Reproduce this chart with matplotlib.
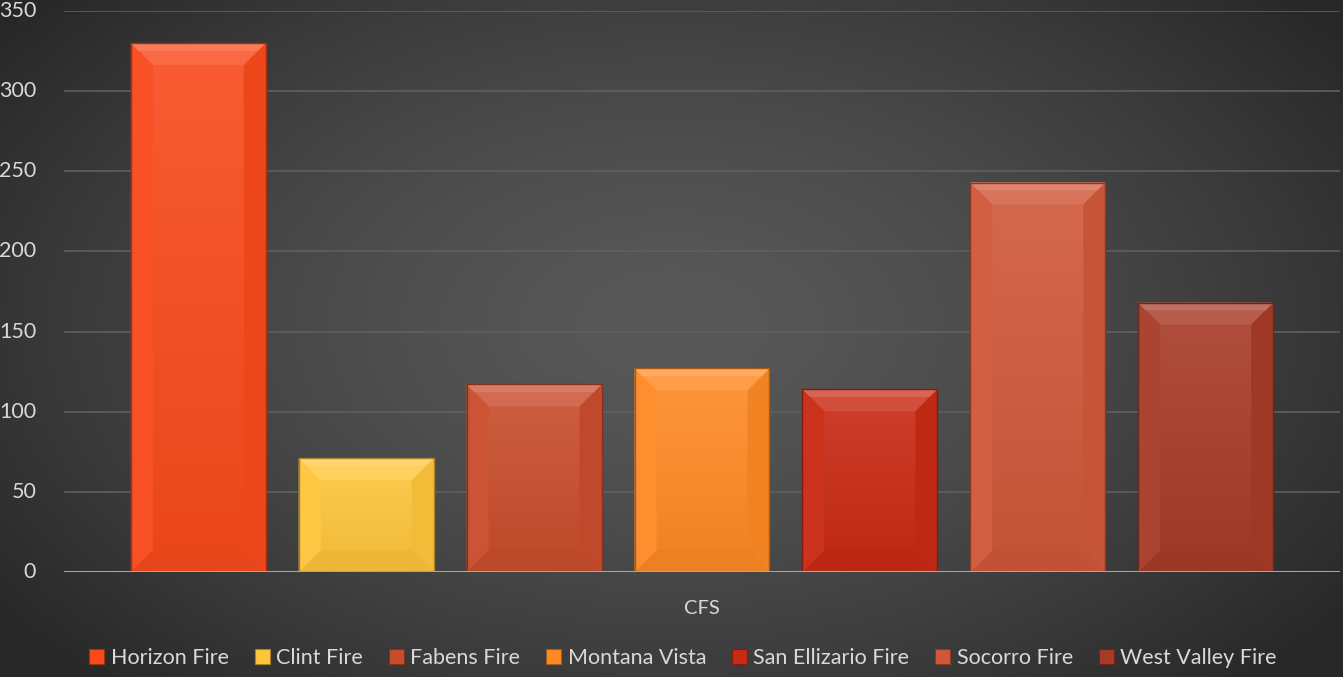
import numpy as np
import matplotlib
matplotlib.use("Agg")
import matplotlib.pyplot as plt
from matplotlib.patches import Polygon, Patch
from matplotlib.colors import to_rgb

# ---- data ----
series = ["Horizon Fire", "Clint Fire", "Fabens Fire", "Montana Vista",
          "San Ellizario Fire", "Socorro Fire", "West Valley Fire"]
values = [330, 71, 117, 127, 114, 243, 168]
category = "CFS"
yticks = [0, 50, 100, 150, 200, 250, 300, 350]
colors = ["#F84A1C", "#FFC63C", "#C94D2C", "#FF8A25", "#C92A14", "#D0583A", "#A83B28"]

plt.rcParams['font.family'] = ['Lato', 'DejaVu Sans']

W, H = 1343, 677
fig = plt.figure(figsize=(W / 100, H / 100), dpi=100)

# background radial gradient
bg = fig.add_axes([0, 0, 1, 1], zorder=-10)
yy, xx = np.mgrid[0:H, 0:W]
r = np.sqrt(((xx - W * 0.5) / (W * 0.62)) ** 2 + ((yy - H * 0.48) / (H * 0.75)) ** 2)
r = np.clip(r, 0, 1)
c_in, c_out = 0x58 / 255, 0x27 / 255
img = c_in + (c_out - c_in) * r ** 1.5
bg.imshow(np.dstack([img, img, img]), aspect='auto', extent=[0, 1, 0, 1])
bg.axis('off')

ax = fig.add_axes([64 / W, 105 / H, (1340 - 64) / W, (572 - 11) / H])
ax.set_facecolor('none')
for s in ax.spines.values():
    s.set_visible(False)

n = len(series)
pos = np.arange(n)
bw = 0.804
ax.set_xlim(-0.5 - 0.30, n - 0.5 + 0.30)
ax.set_ylim(0, 350)

px_x = (1340 - 64) / (ax.get_xlim()[1] - ax.get_xlim()[0])
px_y = (572 - 11) / 350.0
bev = 22
bx, by = bev / px_x, bev / px_y


def mix(c, t, amt):
    c = np.array(to_rgb(c)); t = np.array(to_rgb(t))
    return tuple(c + (t - c) * amt)


bars = ax.bar(pos, values, width=bw, color=colors, zorder=3,
              edgecolor='none')
for b, col in zip(bars, colors):
    x0, w, h = b.get_x(), b.get_width(), b.get_height()
    x1 = x0 + w
    # face vertical gradient
    grad = np.linspace(0, 1, 100).reshape(-1, 1)
    top = np.array(mix(col, 'white', 0.10))
    bot = np.array(mix(col, 'black', 0.06))
    g = bot + (top - bot) * grad
    im = ax.imshow(g.reshape(100, 1, 3), extent=[x0, x1, 0, h], origin='lower',
                   aspect='auto', zorder=3.1, interpolation='bilinear')
    im.set_clip_path(b)
    byy = min(by, h / 2)
    # top bevel
    ax.add_patch(Polygon([[x0, h], [x1, h], [x1 - bx, h - byy], [x0 + bx, h - byy]],
                         closed=True, facecolor=mix(col, 'white', 0.17), edgecolor='none', zorder=3.2))
    ax.add_patch(Polygon([[x0, h], [x1, h], [x1 - bx * 0.35, h - byy * 0.35], [x0 + bx * 0.35, h - byy * 0.35]],
                         closed=True, facecolor=mix(col, 'white', 0.27), edgecolor='none', zorder=3.25))
    # bottom bevel
    ax.add_patch(Polygon([[x0, 0], [x1, 0], [x1 - bx, byy], [x0 + bx, byy]],
                         closed=True, facecolor=mix(col, 'black', 0.07), edgecolor='none', zorder=3.2))
    # left bevel
    ax.add_patch(Polygon([[x0, 0], [x0 + bx, byy], [x0 + bx, h - byy], [x0, h]],
                         closed=True, facecolor=mix(col, 'white', 0.04), edgecolor='none', zorder=3.2))
    # right bevel
    ax.add_patch(Polygon([[x1, 0], [x1 - bx, byy], [x1 - bx, h - byy], [x1, h]],
                         closed=True, facecolor=mix(col, 'black', 0.05), edgecolor='none', zorder=3.2))
    # outline
    ax.add_patch(Polygon([[x0, 0], [x0, h], [x1, h], [x1, 0]], closed=True, fill=False,
                         edgecolor=mix(col, 'black', 0.35), linewidth=1.0, zorder=3.3))

ax.set_yticks(yticks)
ax.yaxis.grid(True, color='#5f5f5f', linewidth=1.2, zorder=0)
ax.set_axisbelow(True)
ax.axhline(0, color='#a6a6a6', linewidth=2.2, zorder=4)
ax.tick_params(axis='y', length=0, pad=20, labelsize=15.5, labelcolor='#d9d9d9')
ax.set_xticks([(n - 1) / 2])
ax.set_xticklabels([category])
ax.tick_params(axis='x', length=0, pad=20, labelsize=14.5, labelcolor='#d9d9d9')
for t in ax.get_yticklabels():
    t.set_va('center')

handles = [Patch(facecolor=c, edgecolor=mix(c, 'black', 0.35), linewidth=0.8) for c in colors]
leg = fig.legend(handles, series, loc='center', bbox_to_anchor=(683 / W, 1 - 658 / H),
                 ncol=n, frameon=False, fontsize=15.5, labelcolor='#d9d9d9',
                 handlelength=0.7, handleheight=0.7, handletextpad=0.3,
                 columnspacing=1.2)

fig.savefig("out.png", dpi=100)
